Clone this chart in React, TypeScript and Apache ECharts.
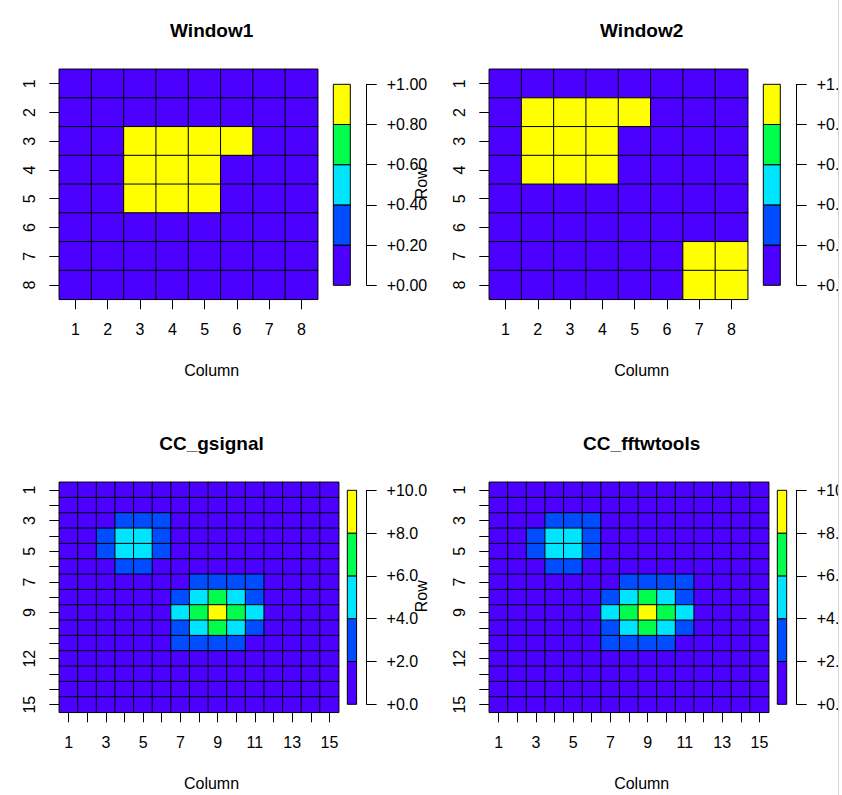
import React, { useEffect, useRef } from "react";
import * as echarts from "echarts";

// ---------- data ----------
const cols8 = ["1", "2", "3", "4", "5", "6", "7", "8"];
const rows8 = ["1", "2", "3", "4", "5", "6", "7", "8"];
const cols15 = ["1", "2", "3", "4", "5", "6", "7", "8", "9", "10", "11", "12", "13", "14", "15"];
const rows15 = ["1", "2", "3", "4", "5", "6", "7", "8", "9", "10", "11", "12", "13", "14", "15"];
const cols15Shown = ["1", "3", "5", "7", "9", "11", "13", "15"];
const rows15Shown = ["1", "3", "5", "7", "9", "12", "15"];

const window1 = [
  [0, 0, 0, 0, 0, 0, 0, 0],
  [0, 0, 0, 0, 0, 0, 0, 0],
  [0, 0, 1, 1, 1, 1, 0, 0],
  [0, 0, 1, 1, 1, 0, 0, 0],
  [0, 0, 1, 1, 1, 0, 0, 0],
  [0, 0, 0, 0, 0, 0, 0, 0],
  [0, 0, 0, 0, 0, 0, 0, 0],
  [0, 0, 0, 0, 0, 0, 0, 0],
];

const window2 = [
  [0, 0, 0, 0, 0, 0, 0, 0],
  [0, 1, 1, 1, 1, 0, 0, 0],
  [0, 1, 1, 1, 0, 0, 0, 0],
  [0, 1, 1, 1, 0, 0, 0, 0],
  [0, 0, 0, 0, 0, 0, 0, 0],
  [0, 0, 0, 0, 0, 0, 0, 0],
  [0, 0, 0, 0, 0, 0, 1, 1],
  [0, 0, 0, 0, 0, 0, 1, 1],
];

const ccGsignal = [
  [0, 0, 0, 0, 0, 0, 0, 0, 0, 0, 0, 0, 0, 0, 0],
  [0, 0, 0, 0, 0, 0, 0, 0, 0, 0, 0, 0, 0, 0, 0],
  [0, 0, 1, 2, 2, 2, 1, 0, 0, 0, 0, 0, 0, 0, 0],
  [0, 0, 2, 4, 4, 3, 1, 0, 0, 0, 0, 0, 0, 0, 0],
  [0, 0, 2, 4, 4, 2, 0, 0, 0, 0, 0, 0, 0, 0, 0],
  [0, 0, 1, 2, 2, 1, 0, 0, 0, 0, 0, 0, 0, 0, 0],
  [0, 0, 0, 0, 0, 0, 1, 2, 3, 3, 2, 1, 0, 0, 0],
  [0, 0, 0, 0, 0, 0, 2, 4, 6, 5, 3, 1, 0, 0, 0],
  [0, 0, 0, 0, 0, 1, 4, 7, 10, 7, 4, 1, 0, 0, 0],
  [0, 0, 0, 0, 0, 1, 3, 5, 6, 4, 2, 0, 0, 0, 0],
  [0, 0, 0, 0, 0, 1, 2, 3, 3, 2, 1, 0, 0, 0, 0],
  [0, 0, 0, 0, 0, 0, 0, 0, 0, 0, 0, 0, 0, 0, 0],
  [0, 0, 0, 0, 0, 0, 0, 0, 0, 0, 0, 0, 0, 0, 0],
  [0, 0, 0, 0, 0, 0, 0, 0, 0, 0, 0, 0, 0, 0, 0],
  [0, 0, 0, 0, 0, 0, 0, 0, 0, 0, 0, 0, 0, 0, 0],
];

const ccFftwtools = [
  [0, 0, 0, 0, 0, 0, 0, 0, 0, 0, 0, 0, 0, 0, 0],
  [0, 0, 0, 0, 0, 0, 0, 0, 0, 0, 0, 0, 0, 0, 0],
  [0, 0, 1, 2, 2, 2, 1, 0, 0, 0, 0, 0, 0, 0, 0],
  [0, 0, 2, 4, 4, 3, 1, 0, 0, 0, 0, 0, 0, 0, 0],
  [0, 0, 2, 4, 4, 2, 0, 0, 0, 0, 0, 0, 0, 0, 0],
  [0, 0, 1, 2, 2, 1, 0, 0, 0, 0, 0, 0, 0, 0, 0],
  [0, 0, 0, 0, 0, 0, 1, 2, 3, 3, 2, 1, 0, 0, 0],
  [0, 0, 0, 0, 0, 0, 2, 4, 6, 5, 3, 1, 0, 0, 0],
  [0, 0, 0, 0, 0, 1, 4, 7, 10, 7, 4, 1, 0, 0, 0],
  [0, 0, 0, 0, 0, 1, 3, 5, 6, 4, 2, 0, 0, 0, 0],
  [0, 0, 0, 0, 0, 1, 2, 3, 3, 2, 1, 0, 0, 0, 0],
  [0, 0, 0, 0, 0, 0, 0, 0, 0, 0, 0, 0, 0, 0, 0],
  [0, 0, 0, 0, 0, 0, 0, 0, 0, 0, 0, 0, 0, 0, 0],
  [0, 0, 0, 0, 0, 0, 0, 0, 0, 0, 0, 0, 0, 0, 0],
  [0, 0, 0, 0, 0, 0, 0, 0, 0, 0, 0, 0, 0, 0, 0],
];

const windowBreaks = [0, 0.2, 0.4, 0.6, 0.8, 1.0];
const ccBreaks = [0, 2, 4, 6, 8, 10];
const palette = ["#4C00FF", "#004CFF", "#00E5FF", "#00FF4D", "#FFFF00"];
const titles = ["Window1", "Window2", "CC_gsignal", "CC_fftwtools"];

// ---------- layout ----------
const FONT = "'Liberation Sans', Arial, sans-serif";

type Panel = {
  title: string;
  matrix: number[][];
  cols: string[];
  rows: string[];
  colsShown: string[];
  rowsShown: string[];
  breaks: number[];
  digits: number;
  plot: { left: number; top: number; width: number; height: number };
  key: { left: number; top: number; width: number; height: number; offset: number };
  cx: number;
  titleY: number;
  colY: number;
  rowX: number | null;
};

const panels: Panel[] = [
  {
    title: titles[0], matrix: window1, cols: cols8, rows: rows8, colsShown: cols8, rowsShown: rows8,
    breaks: windowBreaks, digits: 2,
    plot: { left: 59.3, top: 69.3, width: 258.4, height: 230 },
    key: { left: 333.3, top: 84.3, width: 17, height: 201, offset: 16.4 },
    cx: 211.7, titleY: 30, colY: 370, rowX: null,
  },
  {
    title: titles[1], matrix: window2, cols: cols8, rows: rows8, colsShown: cols8, rowsShown: rows8,
    breaks: windowBreaks, digits: 2,
    plot: { left: 489.3, top: 69.3, width: 258.4, height: 230 },
    key: { left: 763.3, top: 84.3, width: 17, height: 201, offset: 16.4 },
    cx: 641.7, titleY: 30, colY: 370, rowX: 421,
  },
  {
    title: titles[2], matrix: ccGsignal, cols: cols15, rows: rows15, colsShown: cols15Shown, rowsShown: rows15Shown,
    breaks: ccBreaks, digits: 1,
    plot: { left: 59.3, top: 482.3, width: 279.4, height: 230 },
    key: { left: 347.3, top: 490.3, width: 9.3, height: 214, offset: 10 },
    cx: 211.5, titleY: 443, colY: 783.5, rowX: null,
  },
  {
    title: titles[3], matrix: ccFftwtools, cols: cols15, rows: rows15, colsShown: cols15Shown, rowsShown: rows15Shown,
    breaks: ccBreaks, digits: 1,
    plot: { left: 489.3, top: 482.3, width: 279.4, height: 230 },
    key: { left: 777.3, top: 490.3, width: 9.4, height: 214, offset: 10 },
    cx: 641.7, titleY: 443, colY: 783.5, rowX: 421,
  },
];

function buildOption() {
  const grid: any[] = [];
  const xAxis: any[] = [];
  const yAxis: any[] = [];
  const series: any[] = [];
  const visualMap: any[] = [];
  const graphic: any[] = [];

  panels.forEach((p) => {
    const gi = grid.length;
    grid.push({ ...p.plot, containLabel: false, outerBoundsMode: "none" });
    xAxis.push({
      type: "category",
      gridIndex: gi,
      data: p.cols,
      position: "bottom",
      axisLine: { show: false },
      axisTick: {
        show: true, alignWithLabel: true, length: 10, interval: 0,
        lineStyle: { color: "#000", width: 1 },
      },
      axisLabel: {
        interval: (_idx: number, val: string) => p.colsShown.includes(val),
        fontSize: 16, color: "#000", fontFamily: FONT, margin: 22,
      },
      splitArea: { show: false },
      splitLine: { show: false },
    });
    yAxis.push({
      type: "category",
      gridIndex: gi,
      data: p.rows,
      inverse: true,
      position: "left",
      axisLine: { show: false },
      axisTick: {
        show: true, alignWithLabel: true, length: 10, interval: 0,
        lineStyle: { color: "#000", width: 1 },
      },
      axisLabel: {
        interval: (_idx: number, val: string) => p.rowsShown.includes(val),
        rotate: 90, fontSize: 16, color: "#000", fontFamily: FONT, margin: 22,
      },
      splitArea: { show: false },
      splitLine: { show: false },
    });
    const data: number[][] = [];
    p.matrix.forEach((row, r) => row.forEach((v, c) => data.push([c, r, v])));
    const si = series.length;
    series.push({
      type: "heatmap",
      xAxisIndex: gi,
      yAxisIndex: gi,
      data,
      itemStyle: { borderColor: "#000", borderWidth: 1 },
      emphasis: { disabled: true },
    });
    visualMap.push({
      type: "piecewise",
      show: false,
      seriesIndex: si,
      dimension: 2,
      pieces: palette.map((col, k) => ({
        gte: p.breaks[k],
        ...(k === palette.length - 1 ? { lte: p.breaks[k + 1] } : { lt: p.breaks[k + 1] }),
        color: col,
      })),
    });

    // colour key
    const ki = grid.length;
    grid.push({
      left: p.key.left, top: p.key.top, width: p.key.width, height: p.key.height,
      containLabel: false, outerBoundsMode: "none",
    });
    xAxis.push({
      type: "category", gridIndex: ki, data: ["key"],
      axisLine: { show: false }, axisTick: { show: false }, axisLabel: { show: false },
      splitLine: { show: false },
    });
    const step = p.breaks[1] - p.breaks[0];
    yAxis.push({
      type: "value",
      gridIndex: ki,
      min: p.breaks[0],
      max: p.breaks[p.breaks.length - 1],
      interval: step,
      position: "right",
      offset: p.key.offset,
      axisLine: { show: true, lineStyle: { color: "#000", width: 1 } },
      axisTick: { show: true, inside: false, length: 10, lineStyle: { color: "#000", width: 1 } },
      axisLabel: {
        fontSize: 16, color: "#000", fontFamily: FONT, margin: 20,
        formatter: (v: number) => "+" + v.toFixed(p.digits),
      },
      splitLine: { show: false },
    });
    const keyData = palette.map((_c, k) => [0, p.breaks[k], p.breaks[k + 1], k]);
    series.push({
      type: "custom",
      xAxisIndex: ki,
      yAxisIndex: ki,
      data: keyData,
      encode: { x: 0, y: [1, 2] },
      clip: false,
      renderItem: (_params: any, api: any) => {
        const lo = api.coord([api.value(0), api.value(1)]);
        const hi = api.coord([api.value(0), api.value(2)]);
        const w = api.size([1, 0])[0];
        return {
          type: "rect",
          shape: { x: lo[0] - w / 2, y: hi[1], width: w, height: lo[1] - hi[1] },
          style: { fill: palette[api.value(3)], stroke: "#000", lineWidth: 1 },
        };
      },
      emphasis: { disabled: true },
    });

    graphic.push({
      type: "text",
      x: p.cx,
      y: p.titleY,
      style: {
        text: p.title, align: "center", verticalAlign: "middle",
        font: `bold 19px ${FONT}`, fill: "#000",
      },
    });
    graphic.push({
      type: "text",
      x: p.cx,
      y: p.colY,
      style: {
        text: "Column", align: "center", verticalAlign: "middle",
        font: `16px ${FONT}`, fill: "#000",
      },
    });
    if (p.rowX !== null) {
      graphic.push({
        type: "text",
        x: p.rowX,
        y: p.plot.top + p.plot.height / 2 - 1,
        rotation: Math.PI / 2,
        style: {
          text: "Row", align: "center", verticalAlign: "middle",
          font: `16px ${FONT}`, fill: "#000",
        },
      });
    }
  });

  // browser scrollbar strip on the right edge
  graphic.push({
    type: "rect",
    z: 100,
    shape: { x: 838, y: 0, width: 4, height: 795 },
    style: { fill: "#ffffff", stroke: "none" },
  });
  graphic.push({
    type: "line",
    z: 101,
    shape: { x1: 838.5, y1: 0, x2: 838.5, y2: 795 },
    style: { stroke: "#d9d9d9", lineWidth: 1 },
  });

  return {
    animation: false,
    backgroundColor: "#ffffff",
    textStyle: { fontFamily: FONT },
    grid,
    xAxis,
    yAxis,
    visualMap,
    series,
    graphic,
  };
}

export default function App() {
  const ref = useRef<HTMLDivElement>(null);
  useEffect(() => {
    if (!ref.current) return;
    const chart = echarts.init(ref.current, undefined, { renderer: "svg" });
    chart.setOption(buildOption() as any);
    return () => chart.dispose();
  }, []);
  return (
    <div
      ref={ref}
      style={{ position: "fixed", left: 0, top: 0, width: 842, height: 795, background: "#fff" }}
    />
  );
}
